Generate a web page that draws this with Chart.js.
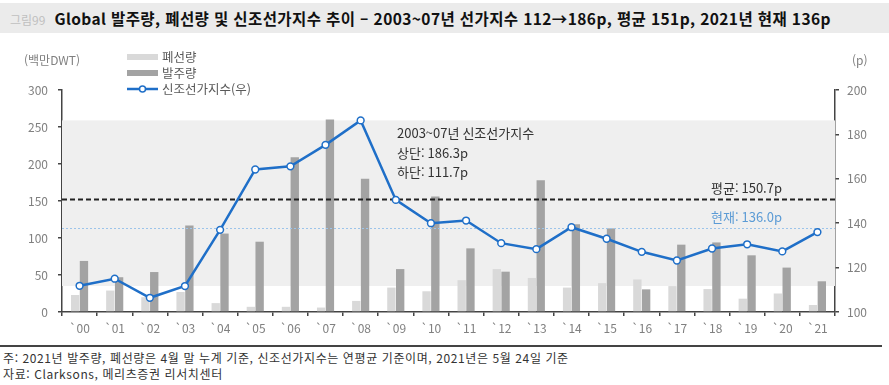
<!DOCTYPE html>
<html lang="ko">
<head>
<meta charset="utf-8">
<script src="https://cdn.jsdelivr.net/npm/chart.js@4"></script>
<style>
  html, body { margin: 0; padding: 0; background: #fff; }
  body { width: 889px; height: 385px; position: relative; overflow: hidden;
         font-family: "Noto Sans CJK KR", "Noto Sans", sans-serif; }
  #title { position: absolute; left: 0; top: 3px; width: 889px; height: 30px; background: #ebebeb;
           line-height: 30px; white-space: nowrap; }
  #title .num { color: #c0c0c0; font-size: 12px; margin-left: 10px; margin-right: 9px; }
  #title .txt { color: #111; font-size: 15.5px; font-weight: bold; letter-spacing: 0.4px; }
  #chart-wrap { position: absolute; left: 0; top: 0; width: 889px; height: 340px; }
  #sep { position: absolute; left: 0; top: 345px; width: 882px; height: 2px; background: #444; }
  .note { position: absolute; left: 3px; font-size: 12px; color: #333; white-space: nowrap; letter-spacing: 0.6px; }
</style>
</head>
<body>
<div id="title"><span class="num">그림99</span><span class="txt">Global 발주량, 폐선량 및 신조선가지수 추이 – 2003~07년 선가지수 112→186p, 평균 151p, 2021년 현재 136p</span></div>
<div id="chart-wrap"><canvas id="ship-chart" width="889" height="340"></canvas></div>
<div id="sep"></div>
<div class="note" style="top:349px">주: 2021년 발주량, 폐선량은 4월 말 누계 기준, 신조선가지수는 연평균 기준이며, 2021년은 5월 24일 기준</div>
<div class="note" style="top:365px">자료: Clarksons, 메리츠증권 리서치센터</div>

<script>
const years = ["`00", "`01", "`02", "`03", "`04", "`05", "`06", "`07", "`08", "`09", "`10",
               "`11", "`12", "`13", "`14", "`15", "`16", "`17", "`18", "`19", "`20", "`21"];
// 폐선량 (백만DWT)
const scrapping = [23, 29, 20, 27, 12, 7, 7, 6, 15, 33, 28, 43, 58, 46, 33, 39, 44, 35, 31, 18, 25, 9.5];
// 발주량 (백만DWT)
const orders = [69, 47, 54, 117, 106, 95, 209, 260, 180, 58, 156, 86, 54.5, 178, 118.5, 113, 30.6, 91, 94, 76.6, 60, 41.5];
// 신조선가지수 (우, p)
const priceIndex = [111.8, 115, 106.4, 111.7, 137, 164.2, 165.6, 175.3, 186.3, 150.5, 140, 141.2,
                    131, 128.3, 138.2, 133, 127.1, 123.2, 128.6, 130.5, 127.3, 136];
const leftTicks = [0, 50, 100, 150, 200, 250, 300];
const rightTicks = [100, 120, 140, 160, 180, 200];
const bandRange = [111.7, 186.3];
const avgLevel = 150.7;
const currentLine = 138;

const FONT = "'Noto Sans CJK KR', 'Noto Sans', sans-serif";
const AXIS_COLOR = "#444";
const BLUE = "#1f6fc8";

const decorPlugin = {
    id: "decor",
    beforeDatasetsDraw(chart) {
        const { ctx, chartArea } = chart;
        const y2 = chart.scales.y2;
        const top = y2.getPixelForValue(bandRange[1]);
        const bottom = y2.getPixelForValue(bandRange[0]);
        ctx.save();
        ctx.fillStyle = "#efefef";
        ctx.fillRect(chartArea.left, top, chartArea.right - chartArea.left, bottom - top);
        ctx.restore();
    },
    beforeDatasetDraw(chart, args) {
        if (args.index !== 2) return;
        const { ctx, chartArea } = chart;
        const y2 = chart.scales.y2;
        ctx.save();
        let y = Math.round(y2.getPixelForValue(avgLevel)) + 0.5;
        ctx.strokeStyle = "#222";
        ctx.lineWidth = 2;
        ctx.setLineDash([5, 3]);
        ctx.beginPath();
        ctx.moveTo(chartArea.left, y);
        ctx.lineTo(chartArea.right, y);
        ctx.stroke();
        y = Math.round(y2.getPixelForValue(currentLine)) + 0.5;
        ctx.strokeStyle = "#9cc4ea";
        ctx.lineWidth = 1;
        ctx.setLineDash([2, 2]);
        ctx.beginPath();
        ctx.moveTo(chartArea.left, y);
        ctx.lineTo(chartArea.right, y);
        ctx.stroke();
        ctx.restore();
    },
    afterDraw(chart) {
        const { ctx } = chart;
        ctx.save();
        ctx.textBaseline = "middle";
        // axis units
        ctx.font = "12px " + FONT;
        ctx.fillStyle = "#808080";
        ctx.textAlign = "left";
        ctx.fillText("(백만DWT)", 24, 60);
        ctx.fillText("(p)", 852, 60);

        // legend
        ctx.fillStyle = "#d9d9d9";
        ctx.fillRect(127, 54, 31, 6);
        ctx.fillStyle = "#a3a3a3";
        ctx.fillRect(127, 70, 31, 6);
        ctx.strokeStyle = BLUE;
        ctx.lineWidth = 2.5;
        ctx.beginPath();
        ctx.moveTo(127, 89);
        ctx.lineTo(158, 89);
        ctx.stroke();
        ctx.fillStyle = "#fff";
        ctx.lineWidth = 1.5;
        ctx.beginPath();
        ctx.arc(142.5, 89, 3, 0, Math.PI * 2);
        ctx.fill();
        ctx.stroke();
        ctx.fillStyle = "#595959";
        ctx.font = "12.5px " + FONT;
        ctx.fillText("폐선량", 162, 57);
        ctx.fillText("발주량", 162, 73);
        ctx.fillText("신조선가지수(우)", 162, 89);

        // annotations
        ctx.fillStyle = "#333";
        ctx.font = "13px " + FONT;
        ctx.fillText("2003~07년 신조선가지수", 397, 133);
        ctx.fillText("상단: 186.3p", 397, 153);
        ctx.fillText("하단: 111.7p", 397, 172);
        ctx.textAlign = "right";
        ctx.fillText("평균: 150.7p", 782, 188);
        ctx.fillStyle = "#5b9bd5";
        ctx.fillText("현재: 136.0p", 782, 217);
        ctx.restore();
    },
};

const chartElement = document.getElementById("ship-chart");
new Chart(chartElement, {
    type: "bar",
    data: {
        labels: years,
        datasets: [
            {
                label: "폐선량",
                data: scrapping,
                backgroundColor: "#d9d9d9",
                yAxisID: "y",
                order: 1,
                categoryPercentage: 0.5,
                barPercentage: 0.95,
            },
            {
                label: "발주량",
                data: orders,
                backgroundColor: "#a3a3a3",
                yAxisID: "y",
                order: 1,
                categoryPercentage: 0.5,
                barPercentage: 0.95,
            },
            {
                type: "line",
                label: "신조선가지수(우)",
                data: priceIndex,
                borderColor: BLUE,
                borderWidth: 2.5,
                pointRadius: 3.4,
                pointBorderWidth: 1.5,
                pointBackgroundColor: "#fff",
                pointBorderColor: BLUE,
                tension: 0,
                yAxisID: "y2",
                order: 0,
            },
        ],
    },
    options: {
        responsive: false,
        animation: false,
        layout: { padding: { top: 90, bottom: 0, left: 0, right: 0 } },
        plugins: {
            legend: { display: false },
            tooltip: { enabled: false },
        },
        scales: {
            x: {
                grid: {
                    drawOnChartArea: false,
                    drawTicks: true,
                    tickLength: 4,
                    color: AXIS_COLOR,
                    lineWidth: 1.5,
                },
                border: { color: AXIS_COLOR, width: 1.5 },
                ticks: {
                    color: "#808080",
                    font: { family: FONT, size: 12 },
                    padding: 5,
                    maxRotation: 0,
                    autoSkip: false,
                },
                afterFit: (scale) => { scale.height = 28; },
            },
            y: {
                position: "left",
                min: 0,
                max: 300,
                afterBuildTicks: (scale) => { scale.ticks = leftTicks.map((v) => ({ value: v })); },
                grid: {
                    drawOnChartArea: false,
                    tickLength: 4,
                    color: AXIS_COLOR,
                    lineWidth: 1.5,
                },
                border: { color: AXIS_COLOR, width: 1.5 },
                ticks: {
                    color: "#808080",
                    font: { family: FONT, size: 12 },
                    padding: 10,
                },
                afterFit: (scale) => { scale.width = 62; },
            },
            y2: {
                position: "right",
                min: 100,
                max: 200,
                afterBuildTicks: (scale) => { scale.ticks = rightTicks.map((v) => ({ value: v })); },
                grid: {
                    drawOnChartArea: false,
                    tickLength: 4,
                    color: AXIS_COLOR,
                    lineWidth: 1.5,
                },
                border: { color: AXIS_COLOR, width: 1.5 },
                ticks: {
                    color: "#808080",
                    font: { family: FONT, size: 12 },
                    padding: 8,
                },
                afterFit: (scale) => { scale.width = 54; },
            },
        },
    },
    plugins: [decorPlugin],
});
</script>
</body>
</html>
